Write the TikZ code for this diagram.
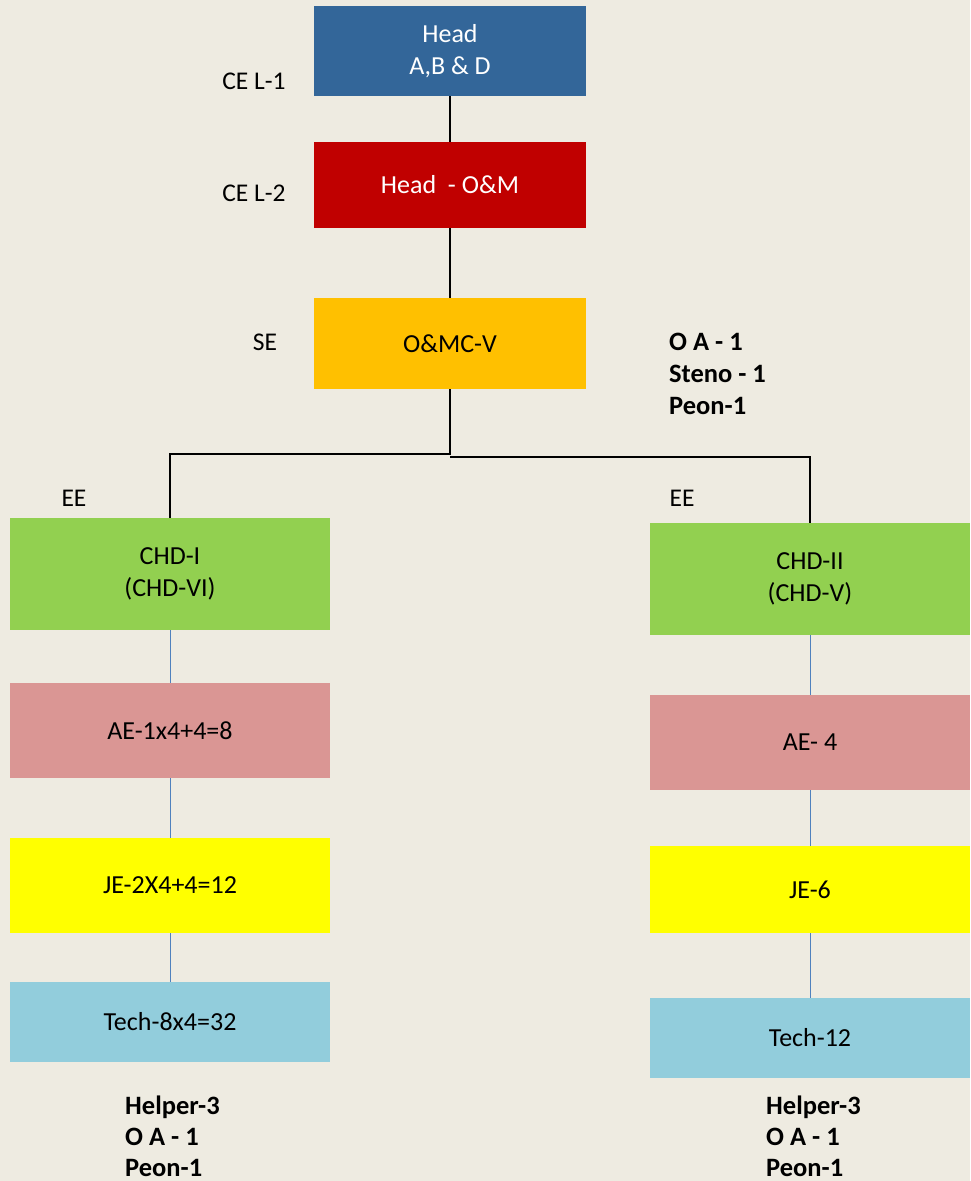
\documentclass[tikz,border=0pt]{standalone}
\usepackage{fontspec}
\setmainfont{Carlito}
\definecolor{bgc}{HTML}{EEEBE1}
\definecolor{cblue}{HTML}{336699}
\definecolor{cred}{HTML}{C00000}
\definecolor{corange}{HTML}{FFC000}
\definecolor{cgreen}{HTML}{92D050}
\definecolor{cpink}{HTML}{DA9694}
\definecolor{cyellow}{HTML}{FFFF00}
\definecolor{clblue}{HTML}{92CDDC}
\definecolor{lnblue}{HTML}{4F81BD}
\begin{document}
\begin{tikzpicture}[x=1pt,y=-1pt,
  box/.style={rectangle,inner sep=0pt,align=center,font=\fontsize{26}{32}\selectfont},
  topbox/.style={box,minimum width=272pt},
  sidebox/.style={box,minimum width=320pt},
  lbl/.style={inner sep=0pt,font=\fontsize{25.5}{30}\selectfont},
  bl/.style={inner sep=0pt,anchor=base west,font=\fontsize{26.5}{31}\selectfont\bfseries},
  blk/.style={draw=black,line width=2pt},
  bln/.style={draw=lnblue,line width=1pt}]
\fill[bgc] (0,0) rectangle (970,1181);
\useasboundingbox (0,0) rectangle (970,1181);
% top boxes
\node[topbox,fill=cblue,text=white,minimum height=90pt] (head) at (450,51) {Head\\A,B \& D};
\node[topbox,fill=cred,text=white,minimum height=86pt] (om) at (450,185) {Head\ \ - O\&M};
\node[topbox,fill=corange,minimum height=91pt] (se) at (450,343.5) {O\&MC-V};
% left column
\node[sidebox,fill=cgreen,minimum height=112pt] (chd1) at (170,574) {CHD-I\\(CHD-VI)};
\node[sidebox,fill=cpink,minimum height=95pt] (ae1) at (170,730.5) {AE-1x4+4=8};
\node[sidebox,fill=cyellow,minimum height=95pt] (je1) at (170,885.5) {JE-2X4+4=12};
\node[sidebox,fill=clblue,minimum height=80pt] (te1) at (170,1022) {Tech-8x4=32};
% right column
\node[sidebox,fill=cgreen,minimum height=112pt] (chd2) at (810,579) {CHD-II\\(CHD-V)};
\node[sidebox,fill=cpink,minimum height=95pt] (ae2) at (810,742.5) {AE- 4};
\node[sidebox,fill=cyellow,minimum height=87pt] (je2) at (810,889.5) {JE-6};
\node[sidebox,fill=clblue,minimum height=80pt] (te2) at (810,1038) {Tech-12};
% labels
\node[lbl] (l1) at (254,81) {CE L-1};
\node[lbl] (l2) at (254,193) {CE L-2};
\node[lbl] (l3) at (265,342) {SE};
\node[lbl] (l4) at (74,498) {EE};
\node[lbl] (l5) at (682,498) {EE};
% staff lists
\node[bl] (s1) at (669,350) {O A - 1};
\node[bl] (s2) at (669,382) {Steno - 1};
\node[bl] (s3) at (669,414) {Peon-1};
\node[bl] (h1) at (125,1114) {Helper-3};
\node[bl] (h2) at (125,1145) {O A - 1};
\node[bl] (h3) at (125,1176) {Peon-1};
\node[bl] (r1) at (766,1114) {Helper-3};
\node[bl] (r2) at (766,1145) {O A - 1};
\node[bl] (r3) at (766,1176) {Peon-1};
% connectors
\draw[blk] (head.south) -- (om.north);
\draw[blk] (om.south) -- (se.north);
\coordinate (jl) at (450,454);
\coordinate (jr) at (450,457);
\draw[blk] (se.south) -- (jl) -| (chd1.north);
\draw[blk] (jr) -| (chd2.north);
\draw[bln] (chd1.south) -- (ae1.north);
\draw[bln] (ae1.south) -- (je1.north);
\draw[bln] (je1.south) -- (te1.north);
\draw[bln] (chd2.south) -- (ae2.north);
\draw[bln] (ae2.south) -- (je2.north);
\draw[bln] (je2.south) -- (te2.north);
\end{tikzpicture}
\end{document}
